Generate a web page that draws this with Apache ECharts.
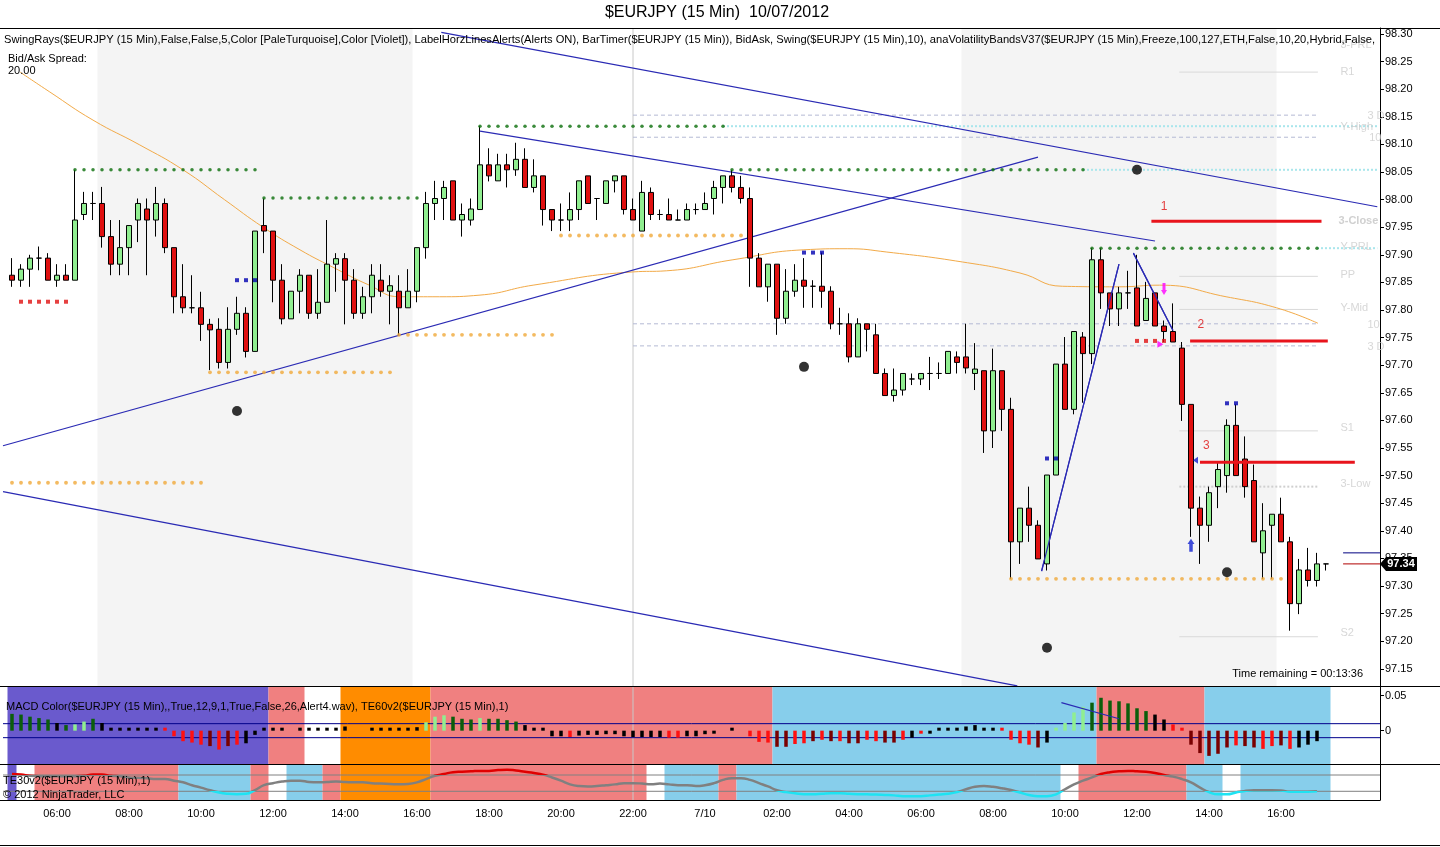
<!DOCTYPE html>
<html>
<head>
<meta charset="utf-8">
<title>$EURJPY (15 Min) 10/07/2012</title>
<script src="https://cdn.jsdelivr.net/npm/echarts@6.0.0/dist/echarts.min.js"></script>
<style>
html,body{margin:0;padding:0;background:#fff;}
#chart{width:1440px;height:847px;}
</style>
</head>
<body>
<div id="chart"></div>
<script>
// ================= DATA =================
// bar index 0 = 04:45 (9 Jul 2012), 15-minute bars, last bar index 146 = 17:15 (10 Jul)
const tickBars   = [5,13,21,29,37,45,53,61,69,77,85,93,101,109,117,125,133,141];
const tickLabels = ['06:00','08:00','10:00','12:00','14:00','16:00','18:00','20:00','22:00','7/10','02:00','04:00','06:00','08:00','10:00','12:00','14:00','16:00'];
const priceTicks = [97.15,97.20,97.25,97.30,97.35,97.40,97.45,97.50,97.55,97.60,97.65,97.70,97.75,97.80,97.85,97.90,97.95,98.00,98.05,98.10,98.15,98.20,98.25,98.30];
const macdTicks  = [0, 0.05];

const opens = [97.863,97.854,97.874,97.894,97.894,97.854,97.863,97.854,97.973,97.993,
97.993,97.933,97.883,97.913,97.963,97.983,97.963,97.993,97.913,97.824,
97.804,97.804,97.774,97.765,97.705,97.765,97.794,97.725,97.953,97.943,
97.854,97.784,97.834,97.863,97.794,97.814,97.883,97.893,97.854,97.794,
97.824,97.854,97.834,97.834,97.804,97.834,97.913,97.993,98.002,98.034,
97.963,97.963,97.982,98.063,98.034,98.063,98.054,98.073,98.022,98.043,
97.982,97.963,97.963,97.982,98.043,98.002,97.993,98.034,98.043,97.982,
97.943,98.013,97.973,97.973,97.963,97.963,97.982,97.982,98.002,98.022,
98.043,98.022,98.002,97.894,97.842,97.883,97.785,97.834,97.854,97.843,
97.843,97.834,97.775,97.775,97.715,97.775,97.755,97.685,97.645,97.655,
97.675,97.675,97.685,97.685,97.685,97.715,97.715,97.685,97.690,97.581,
97.690,97.620,97.380,97.441,97.410,97.340,97.501,97.702,97.620,97.751,
97.721,97.891,97.831,97.802,97.831,97.840,97.781,97.831,97.771,97.761,
97.731,97.629,97.441,97.410,97.480,97.500,97.591,97.530,97.491,97.360,
97.410,97.430,97.380,97.268,97.329,97.310,97.340];
const closes = [97.854,97.874,97.894,97.894,97.854,97.863,97.854,97.963,97.993,97.993,
97.933,97.883,97.913,97.953,97.993,97.963,97.993,97.913,97.824,97.804,
97.804,97.774,97.764,97.705,97.765,97.794,97.725,97.943,97.943,97.854,
97.784,97.834,97.863,97.794,97.814,97.883,97.893,97.854,97.794,97.824,
97.863,97.834,97.844,97.804,97.834,97.913,97.993,98.002,98.022,97.963,
97.973,97.983,98.063,98.043,98.063,98.054,98.073,98.022,98.043,97.982,
97.963,97.963,97.982,98.034,97.993,98.002,98.034,98.043,97.982,97.963,
98.013,97.973,97.973,97.963,97.963,97.982,97.982,97.993,98.022,98.043,
98.022,98.002,97.894,97.842,97.883,97.785,97.834,97.854,97.843,97.843,
97.834,97.775,97.775,97.715,97.775,97.765,97.685,97.645,97.655,97.685,
97.675,97.685,97.685,97.685,97.725,97.705,97.695,97.693,97.581,97.690,
97.620,97.380,97.441,97.410,97.349,97.501,97.702,97.620,97.761,97.721,
97.891,97.831,97.802,97.831,97.831,97.771,97.821,97.771,97.761,97.742,
97.629,97.441,97.410,97.469,97.511,97.591,97.500,97.480,97.380,97.400,
97.430,97.380,97.268,97.329,97.310,97.340,97.340];
const lows = [97.842,97.842,97.842,97.872,97.854,97.842,97.854,97.854,97.963,97.963,
97.913,97.863,97.863,97.863,97.923,97.863,97.933,97.903,97.794,97.794,
97.794,97.744,97.691,97.694,97.694,97.755,97.714,97.725,97.903,97.814,
97.774,97.784,97.794,97.784,97.784,97.814,97.833,97.774,97.784,97.784,
97.794,97.824,97.774,97.755,97.804,97.814,97.893,97.963,97.963,97.963,
97.933,97.953,97.982,98.033,98.034,98.022,98.043,98.022,98.013,97.953,
97.943,97.943,97.943,97.963,97.993,97.963,97.993,98.013,97.973,97.963,
97.943,97.963,97.963,97.963,97.963,97.963,97.973,97.982,97.973,97.993,
98.013,97.993,97.842,97.842,97.815,97.755,97.775,97.824,97.804,97.804,
97.804,97.765,97.755,97.705,97.715,97.725,97.685,97.645,97.634,97.645,
97.664,97.664,97.655,97.675,97.685,97.685,97.685,97.655,97.541,97.550,
97.581,97.313,97.340,97.380,97.349,97.328,97.501,97.620,97.611,97.632,
97.702,97.802,97.771,97.771,97.802,97.771,97.781,97.771,97.742,97.742,
97.599,97.389,97.340,97.380,97.441,97.469,97.500,97.460,97.380,97.313,
97.313,97.380,97.219,97.249,97.299,97.299,97.328];
const highs = [97.894,97.883,97.900,97.915,97.903,97.883,97.883,98.054,98.014,98.014,
98.023,97.963,97.963,97.953,98.002,98.002,98.023,98.002,97.913,97.883,
97.863,97.833,97.784,97.785,97.805,97.824,97.805,97.943,98.002,97.943,
97.883,97.834,97.874,97.863,97.874,97.963,97.903,97.903,97.874,97.842,
97.883,97.883,97.863,97.863,97.874,97.913,98.014,98.034,98.034,98.034,
97.993,98.002,98.133,98.093,98.083,98.083,98.103,98.093,98.073,98.043,
97.982,97.993,98.013,98.034,98.043,98.002,98.034,98.043,98.043,98.002,
98.034,98.022,97.982,98.002,97.982,97.993,97.993,98.013,98.034,98.043,
98.054,98.043,98.022,97.903,97.883,97.883,97.874,97.883,97.894,97.854,
97.904,97.843,97.804,97.794,97.785,97.775,97.775,97.694,97.694,97.685,
97.685,97.685,97.715,97.705,97.725,97.725,97.775,97.740,97.690,97.730,
97.690,97.641,97.441,97.480,97.419,97.501,97.702,97.751,97.761,97.760,
97.912,97.912,97.831,97.842,97.871,97.900,97.851,97.831,97.781,97.812,
97.742,97.629,97.462,97.480,97.523,97.602,97.629,97.571,97.520,97.450,
97.430,97.460,97.389,97.349,97.369,97.360,97.340];

// volatility band middle line (orange), [bar, price]
const bandMid = [[0.9,98.231],[4.2,98.195],[9,98.144],[14.2,98.099],[19,98.054],[23.6,98.0],[27.9,97.950],
[32,97.909],[35.6,97.878],[39.7,97.845],[43.1,97.824],[47.5,97.824],[52,97.827],[57.9,97.845],[69,97.869],
[72.7,97.871],[80.1,97.891],[87.9,97.909],[92.8,97.911],[97.2,97.905],[105.6,97.887],[112,97.867],
[116.7,97.843],[123,97.842],[127.5,97.845],[134.9,97.824],[140.5,97.804],[145.1,97.776]];

// swing levels [fromBar, toBar, price]
const swingHighLevels = [[7,27,98.054],[28,45,98.003],[52,79,98.133],[80,119,98.054],[120,145,97.912]];
const swingLowLevels  = [[0,21,97.487],[22,42,97.687],[43,60,97.755],[61,81,97.935],[111,141,97.313]];
const redMarks  = [[1,6,97.815],[125,128,97.744]];
const blueMarks = [[25,27,97.854],[88,90,97.904],[115,116,97.531],[135,136,97.631]];
const swingPoints = [[25,97.617],[88,97.697],[125,98.054],[115,97.188],[135,97.325]];

// drawn trend lines [[bar, price],[bar, price]]
const trendLines = [
  [[-1,97.554],[114.0,98.077]],
  [[47.7,98.303],[151.7,97.987]],
  [[52,98.124],[127,97.925]],
  [[114.4,97.327],[123.0,97.883]],
  [[124.6,97.903],[129.0,97.763]],
  [[-1,97.471],[111.7,97.119]]
];

// pivot levels
const pivotRange = [129.7, 145.1];
const pivotPrices = [98.231, 97.861, 97.801, 97.581, 97.208];   // R1, PP, Y-Mid, S1, S2
const threeLowPrice = 97.480;
const dashedLevels = [98.153, 98.113, 97.775, 97.735];
const dashedRange = [69, 145.1];
const rayLevels = [[79,98.133],[119,98.054],[145,97.912]];      // pale turquoise swing rays
const rayEnd = 151.7;
const levelLabels = [
  ['3-PRL',147.6,98.280],['R1',147.6,98.231],['3 D',150.6,98.151],['Y-High',147.6,98.131],
  ['10',150.8,98.112],['3-Close',147.4,97.961],['Y-PRL',147.6,97.914],['PP',147.6,97.863],
  ['Y-Mid',147.6,97.804],['10',150.6,97.773],['3 D',150.6,97.733],['S1',147.6,97.586],
  ['3-Low',147.6,97.485],['S2',147.6,97.215]
];
const alertLines = [['1',126.6,145.5,97.961,128.0,97.987],['2',130.9,146.2,97.744,132.1,97.773],['3',132.0,149.2,97.524,132.7,97.554]];
const askPrice = 97.36, bidPrice = 97.34, lastPrice = 97.34;
const bidAskRange = [147.9, 152];
const sessions = [[10,44],[106,140]];
const crossBar = 69;

// MACD histogram per bar and colour code (g dark green, l light green, r red, d dark red, k black)
const macdHist = [0.024,0.023,0.020,0.018,0.016,0.011,0.008,0.009,0.013,0.017,
0.011,0.004,0.002,0.002,0.002,0.002,0.002,0.001,-0.008,-0.015,
-0.017,-0.020,-0.022,-0.027,-0.022,-0.020,-0.018,-0.006,0.002,0.002,
0.001,0,0.001,0.001,0.001,0.002,0.004,0.006,0,0,
0.001,0.001,0.001,0.001,0.002,0.005,0.012,0.020,0.022,0.020,
0.017,0.016,0.018,0.017,0.017,0.015,0.013,0.008,0.003,0.001,
-0.008,-0.008,-0.009,-0.007,-0.006,-0.006,-0.005,-0.005,-0.008,-0.009,
-0.009,-0.009,-0.009,-0.010,-0.010,-0.008,-0.008,-0.005,-0.003,0,
0.002,0,-0.008,-0.016,-0.017,-0.023,-0.023,-0.019,-0.018,-0.015,
-0.013,-0.015,-0.015,-0.018,-0.018,-0.013,-0.015,-0.017,-0.017,-0.013,
-0.010,-0.004,-0.004,0.001,0.002,0.004,0.006,0.008,0.002,0.003,
0.002,-0.013,-0.018,-0.020,-0.024,-0.017,0.001,0.011,0.026,0.034,
0.040,0.047,0.043,0.042,0.039,0.032,0.028,0.023,0.016,0.009,
0.001,-0.020,-0.032,-0.036,-0.033,-0.024,-0.021,-0.022,-0.024,-0.026,
-0.022,-0.021,-0.026,-0.024,-0.020,-0.015,0];
const macdColorCodes = ('gggggkgllgkkkkkkkrrrrrdrdrkkkkkkkkkkkkkkkkkkkklllgggl' +
 'ggggkkkkkrkkkkkkkkkkrrkkkkkkkrrrddrrdrdrddrrddrkrkkkkkkkkrrrrdkllllgggggggkkrrdddddrddrrdrk').split('');
const macdSignalLine = [[116.6,0.040],[123.0,0.017]];
const macdBands = [0.01, -0.01];

// TE30 oscillator per bar
const te30 = [72.5,71,68,67,67,67,67,67,68,71,71,68,67,64,63,62,60,60,56,52,
45,39,32.5,27,24,23,24,33,45,50,54,56,56,53,52,53,54,53,52,52,
50,49,48,47,48,52,60,68,72.5,77,78,79,80,80,82,83,81,78,75,71,
64,56,47,43,42,43,45,47,50,50,49,47,49,47,45,45,43,45,50,58,
62,62,58,50,42,32.5,28,25,23,23,24,25,25,24,23,22.5,22,21,20,18,
18,18,20,22,24,28,35,41,43,41,37.5,33,27,21,18,18,22.5,35,47,56,
64,72.5,77,79,80,79,78,75,70,66,60,52,39,28,22.5,22.5,27,31,32.5,32.5,
32.5,32,29,29,29,30];
const teLevels = [70, 30];

// trend-state zones [fromBar, toBar, state]
const macdZones = [[0,28,'slate'],[29,32,'coral'],[37,46,'orange'],[47,84,'coral'],[85,120,'sky'],[121,132,'coral'],[133,146,'sky']];
const teZones = [[0,0,'slate'],[3,18,'coral'],[19,26,'sky'],[27,28,'coral'],[31,34,'sky'],[35,36,'coral'],[37,46,'orange'],
[47,70,'coral'],[73,78,'sky'],[79,80,'coral'],[81,116,'sky'],[119,130,'coral'],[131,134,'sky'],[137,146,'sky']];

// ================= STYLE =================
const FONT = '"Liberation Sans", Arial, Helvetica, sans-serif';
const zoneColors = {slate:'#6a5acd', coral:'#f08080', orange:'#ff8c00', sky:'#87ceeb'};
const histColors = {g:'#0b5e0b', l:'#90ee90', r:'#ff1010', d:'#7a0000', k:'#000000'};
const PRICE_MIN = 97.1188, PRICE_MAX = 98.3109;
const MACD_MIN = -0.0476, MACD_MAX = 0.0624;
const TE_MIN = 8.65, TE_MAX = 97;

// ================= BUILD =================
const series = [];
const idx = () => series.length;

function zoneSeries(zones, g, colorFn, z) {
  return {
    type: 'custom', xAxisIndex: g, yAxisIndex: g, z: z, silent: true, animation: false,
    data: zones.map(zn => [zn[0], zn[1]]),
    renderItem: function (params, api) {
      const s = api.value(0), e = api.value(1);
      const p0 = api.coord([s - 0.5, 0]);
      const p1 = api.coord([e + 0.5, 0]);
      const cs = params.coordSys;
      return { type: 'rect', shape: { x: p0[0], y: cs.y, width: p1[0] - p0[0], height: cs.height },
               style: { fill: colorFn(zones[params.dataIndex]) } };
    }
  };
}
function seg(pts, style, g, z) {
  series.push({ type: 'line', xAxisIndex: g, yAxisIndex: g, data: pts, symbol: 'none', silent: true,
    animation: false, z: z, lineStyle: style, clip: true });
}
function levelDots(levels) {
  const pts = [];
  levels.forEach(([s, e, p]) => { for (let b = s; b <= e; b++) pts.push([b, p]); });
  return pts;
}

// price panel
series.push(zoneSeries(sessions, 0, () => '#f4f4f4', 0));
seg([[crossBar, PRICE_MIN], [crossBar, PRICE_MAX]], { color: '#c8c8c8', width: 1 }, 0, 1);
dashedLevels.forEach(p => seg([[dashedRange[0], p], [dashedRange[1], p]], { color: '#b4bad4', width: 1, type: [4, 3] }, 0, 1));
pivotPrices.forEach(p => seg([[pivotRange[0], p], [pivotRange[1], p]], { color: '#d9d9d9', width: 1 }, 0, 1));
seg([[pivotRange[0], threeLowPrice], [pivotRange[1], threeLowPrice]], { color: '#cfcfcf', width: 2, type: [2, 2] }, 0, 1);
rayLevels.forEach(([b, p]) => seg([[b, p], [rayEnd, p]], { color: '#a9e6ec', width: 2, type: [2, 2] }, 0, 1));
series.push({ type: 'line', xAxisIndex: 0, yAxisIndex: 0, data: bandMid, smooth: true, symbol: 'none', silent: true,
  animation: false, z: 2, lineStyle: { color: '#f2aa48', width: 1 } });
trendLines.forEach(l => seg(l, { color: '#2a2ab4', width: 1.2 }, 0, 3));

series.push({
  type: 'candlestick', xAxisIndex: 0, yAxisIndex: 0, z: 5, barWidth: 5, animation: false,
  data: opens.map((o, i) => [i, o, closes[i], lows[i], highs[i]]),
  encode: { x: 0, y: [1, 2, 3, 4] },
  itemStyle: { color: '#90ee90', color0: '#e01010', borderColor: '#000', borderColor0: '#000', borderWidth: 1 }
});
trendLines.slice(3, 5).forEach(l => seg(l, { color: '#2a2ab4', width: 1.2 }, 0, 6));

series.push({ type: 'scatter', xAxisIndex: 0, yAxisIndex: 0, data: levelDots(swingHighLevels), symbol: 'circle',
  symbolSize: 3.5, itemStyle: { color: '#0a6e0a' }, silent: true, animation: false, z: 7 });
series.push({ type: 'scatter', xAxisIndex: 0, yAxisIndex: 0, data: levelDots(swingLowLevels), symbol: 'circle',
  symbolSize: 3.8, itemStyle: { color: '#f0a93a' }, silent: true, animation: false, z: 7 });
series.push({ type: 'scatter', xAxisIndex: 0, yAxisIndex: 0, data: levelDots(redMarks), symbol: 'rect',
  symbolSize: [4, 4], itemStyle: { color: '#e01010' }, silent: true, animation: false, z: 7 });
series.push({ type: 'scatter', xAxisIndex: 0, yAxisIndex: 0, data: levelDots(blueMarks), symbol: 'rect',
  symbolSize: [4, 4], itemStyle: { color: '#0000b0' }, silent: true, animation: false, z: 7 });
series.push({ type: 'scatter', xAxisIndex: 0, yAxisIndex: 0, data: swingPoints, symbol: 'circle',
  symbolSize: 10, itemStyle: { color: '#000' }, silent: true, animation: false, z: 7 });

// alert lines (red)
alertLines.forEach(a => seg([[a[1], a[3]], [a[2], a[3]]], { color: '#e8141c', width: 3 }, 0, 8));
series.push({ type: 'scatter', xAxisIndex: 0, yAxisIndex: 0, symbolSize: 0, silent: true, animation: false, z: 9,
  data: alertLines.map(a => ({ value: [a[4], a[5]], name: a[0] })),
  label: { show: true, position: 'inside', formatter: '{b}', color: '#e01010', fontSize: 12, fontFamily: FONT } });
// bid / ask
seg([[bidAskRange[0], askPrice], [bidAskRange[1], askPrice]], { color: '#000080', width: 1 }, 0, 8);
seg([[bidAskRange[0], bidPrice], [bidAskRange[1], bidPrice]], { color: '#b00000', width: 1 }, 0, 8);
// level labels
series.push({ type: 'scatter', xAxisIndex: 0, yAxisIndex: 0, symbolSize: 0, silent: true, animation: false, z: 9,
  data: levelLabels.map(l => ({ value: [l[1], l[2]], name: l[0],
    label: l[0] === '3-Close' ? { fontWeight: 'bold', color: '#c4c4c4' } : {} })),
  label: { show: true, position: 'right', distance: 0, formatter: '{b}', color: '#cdcdcd', fontSize: 11, fontFamily: FONT } });
// signal arrows
series.push({ type: 'scatter', xAxisIndex: 0, yAxisIndex: 0, silent: true, animation: false, z: 9,
  data: [
    { value: [128, 97.838], symbol: 'path://M2,0 L6,0 L6,7 L8,7 L4,12 L0,7 L2,7 Z', symbolSize: [6, 12], itemStyle: { color: '#ff00ff' } },
    { value: [127.6, 97.738], symbol: 'path://M0,0 L8,5 L0,10 Z', symbolSize: [6, 7], itemStyle: { color: '#ff00ff' } },
    { value: [131, 97.374], symbol: 'path://M4,0 L8,5 L6,5 L6,12 L2,12 L2,5 L0,5 Z', symbolSize: [7, 13], itemStyle: { color: '#1020d0' } },
    { value: [131.5, 97.528], symbol: 'path://M8,0 L0,5 L8,10 Z', symbolSize: [5, 7], itemStyle: { color: '#1020d0' } }
  ] });

// MACD panel
series.push(zoneSeries(macdZones, 1, z => zoneColors[z[2]], 0));
seg([[crossBar, MACD_MIN], [crossBar, MACD_MAX]], { color: '#c8c8c8', width: 1 }, 1, 1);
macdBands.forEach(v => seg([[-1, v], [152, v]], { color: '#00008b', width: 1 }, 1, 2));
const histData = [];
macdHist.forEach((v, i) => { if (v !== 0) histData.push({ value: [i, v], itemStyle: { color: histColors[macdColorCodes[i]] || '#000' } }); });
series.push({ type: 'bar', xAxisIndex: 1, yAxisIndex: 1, data: histData, barWidth: 3.5, barMinHeight: 3,
  silent: true, animation: false, z: 3 });
seg(macdSignalLine, { color: '#2a2ab4', width: 1.2 }, 1, 4);

// TE30 panel
series.push(zoneSeries(teZones, 2, z => zoneColors[z[2]], 0));
seg([[crossBar, TE_MIN], [crossBar, TE_MAX]], { color: '#c8c8c8', width: 1 }, 2, 1);
teLevels.forEach(v => seg([[-1, v], [152, v]], { color: '#808080', width: 1 }, 2, 2));
const teIndex = idx();
series.push({ type: 'line', xAxisIndex: 2, yAxisIndex: 2, data: te30.map((v, i) => [i, v]), smooth: 0.5,
  symbol: 'none', silent: true, animation: false, z: 3, lineStyle: { width: 2.5 } });

const axisFont = { fontFamily: FONT, fontSize: 11, color: '#000' };
const xBase = { type: 'value', min: -1, max: 152, splitLine: { show: false }, axisTick: { show: false },
  axisLabel: { show: false }, axisLine: { show: false, onZero: false } };

const option = {
  animation: false,
  backgroundColor: '#ffffff',
  grid: [
    { left: 3, width: 1377, top: 28, height: 658 },
    { left: 3, width: 1377, top: 687, height: 77 },
    { left: 3, width: 1377, top: 764, height: 36 }
  ],
  xAxis: [
    Object.assign({}, xBase, { gridIndex: 0 }),
    Object.assign({}, xBase, { gridIndex: 1 }),
    Object.assign({}, xBase, { gridIndex: 2,
      axisLine: { show: true, onZero: false, lineStyle: { color: '#000', width: 1 } },
      axisLabel: Object.assign({ show: true, customValues: tickBars, margin: 8,
        formatter: v => tickLabels[tickBars.indexOf(Math.round(v))] }, axisFont) })
  ],
  yAxis: [
    { gridIndex: 0, type: 'value', position: 'right', min: PRICE_MIN, max: PRICE_MAX, splitLine: { show: false },
      axisLine: { show: true, onZero: false, lineStyle: { color: '#000' } },
      axisTick: { show: true, customValues: priceTicks, length: 4, lineStyle: { color: '#000' } },
      axisLabel: Object.assign({ customValues: priceTicks, margin: 5, formatter: v => v.toFixed(2) }, axisFont) },
    { gridIndex: 1, type: 'value', position: 'right', min: MACD_MIN, max: MACD_MAX, splitLine: { show: false },
      axisLine: { show: true, onZero: false, lineStyle: { color: '#000' } },
      axisTick: { show: true, customValues: macdTicks, length: 4, lineStyle: { color: '#000' } },
      axisLabel: Object.assign({ customValues: macdTicks, margin: 5, formatter: v => (Math.abs(v) < 1e-9 ? '0' : v.toFixed(2)) }, axisFont) },
    { gridIndex: 2, type: 'value', position: 'right', min: TE_MIN, max: TE_MAX, splitLine: { show: false },
      axisLine: { show: true, onZero: false, lineStyle: { color: '#000' } }, axisTick: { show: false }, axisLabel: { show: false } }
  ],
  visualMap: [{
    type: 'piecewise', show: false, seriesIndex: teIndex, dimension: 1,
    pieces: [{ gt: 70, color: '#e00000' }, { gte: 30, lte: 70, color: '#808080' }, { lt: 30, color: '#1ee3f2' }]
  }],
  series: series,
  graphic: [
    { type: 'line', z: 100, shape: { x1: 0, y1: 28.5, x2: 1440, y2: 28.5 }, style: { stroke: '#000', lineWidth: 1 } },
    { type: 'line', z: 100, shape: { x1: 0, y1: 686.5, x2: 1440, y2: 686.5 }, style: { stroke: '#000', lineWidth: 1 } },
    { type: 'line', z: 100, shape: { x1: 0, y1: 764.5, x2: 1440, y2: 764.5 }, style: { stroke: '#000', lineWidth: 1 } },
    { type: 'line', z: 100, shape: { x1: 0, y1: 800.5, x2: 1380, y2: 800.5 }, style: { stroke: '#000', lineWidth: 1 } },
    { type: 'line', z: 100, shape: { x1: 0, y1: 845.5, x2: 1440, y2: 845.5 }, style: { stroke: '#000', lineWidth: 1 } },
    { type: 'text', z: 100, x: 717, y: 13, style: { text: '$EURJPY (15 Min)  10/07/2012', font: '16px ' + FONT, fill: '#000', align: 'center', verticalAlign: 'middle' } },
    { type: 'text', z: 100, x: 4, y: 40, style: { text: 'SwingRays($EURJPY (15 Min),False,False,5,Color [PaleTurquoise],Color [Violet]), LabelHorzLinesAlerts(Alerts ON), BarTimer($EURJPY (15 Min)), BidAsk, Swing($EURJPY (15 Min),10), anaVolatilityBandsV37($EURJPY (15 Min),Freeze,100,127,ETH,False,10,20,Hybrid,False,', font: '11.15px ' + FONT, fill: '#000', align: 'left', verticalAlign: 'middle', width: 1374, overflow: 'truncate', ellipsis: '' } },
    { type: 'text', z: 100, x: 8, y: 59, style: { text: 'Bid/Ask Spread:', font: '11px ' + FONT, fill: '#000', align: 'left', verticalAlign: 'middle' } },
    { type: 'text', z: 100, x: 8, y: 71, style: { text: '20.00', font: '11px ' + FONT, fill: '#000', align: 'left', verticalAlign: 'middle' } },
    { type: 'text', z: 100, x: 1363, y: 674, style: { text: 'Time remaining = 00:13:36', font: '11px ' + FONT, fill: '#000', align: 'right', verticalAlign: 'middle' } },
    { type: 'text', z: 100, x: 6, y: 707, style: { text: 'MACD Color($EURJPY (15 Min),,True,12,9,1,True,False,26,Alert4.wav), TE60v2($EURJPY (15 Min),1)', font: '11px ' + FONT, fill: '#000', align: 'left', verticalAlign: 'middle' } },
    { type: 'text', z: 100, x: 3, y: 781, style: { text: 'TE30v2($EURJPY (15 Min),1)', font: '11px ' + FONT, fill: '#000', align: 'left', verticalAlign: 'middle' } },
    { type: 'text', z: 100, x: 3, y: 795, style: { text: '\u00A9 2012 NinjaTrader, LLC', font: '11px ' + FONT, fill: '#000', align: 'left', verticalAlign: 'middle' } }
  ]
};

const chart = echarts.init(document.getElementById('chart'), null, { renderer: 'canvas' });
chart.setOption(option);

// last price tag on the price axis
const py = chart.convertToPixel({ yAxisIndex: 0 }, lastPrice);
const ax = chart.convertToPixel({ xAxisIndex: 0 }, 152);
chart.setOption({
  graphic: [
    { id: 'tagShape', type: 'polygon', z: 110,
      shape: { points: [[ax, py], [ax + 6, py - 7], [ax + 37, py - 7], [ax + 37, py + 7], [ax + 6, py + 7]] },
      style: { fill: '#000' } },
    { id: 'tagText', type: 'text', z: 111, x: ax + 21, y: py,
      style: { text: lastPrice.toFixed(2), font: 'bold 11px ' + FONT, fill: '#fff', align: 'center', verticalAlign: 'middle' } }
  ]
});
</script>
</body>
</html>
